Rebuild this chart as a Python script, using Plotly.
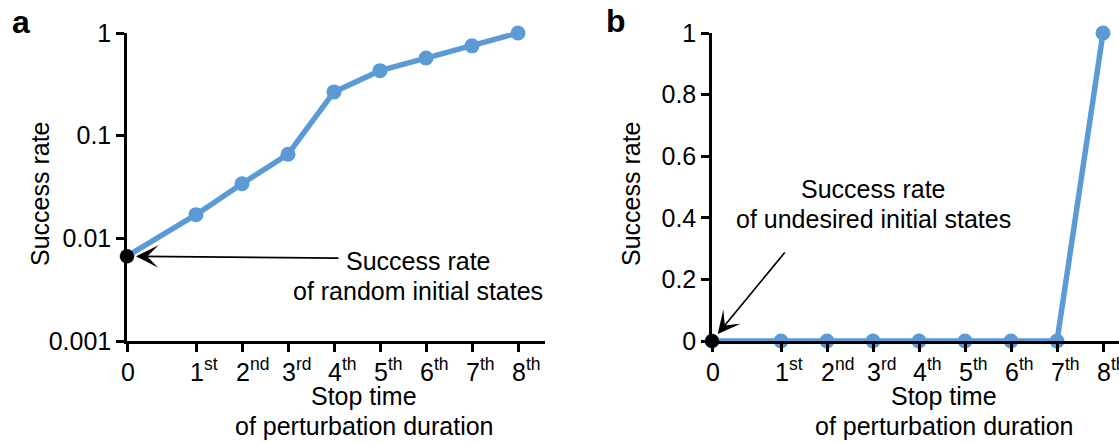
import math
import plotly.graph_objects as go

# ---- data ----
stop_digits = ["0", "1", "2", "3", "4", "5", "6", "7", "8"]
stop_suffix = ["", "st", "nd", "rd", "th", "th", "th", "th", "th"]
stop_x = [0, 1.5, 2.5, 3.5, 4.5, 5.5, 6.5, 7.5, 8.5]
rate_random = [0.0067, 0.017, 0.034, 0.066, 0.267, 0.43, 0.57, 0.75, 1.0]
rate_undesired = [0, 0, 0, 0, 0, 0, 0, 0, 1.0]
log_ticks = [0.001, 0.01, 0.1, 1]
log_tick_text = ["0.001", "0.01", "0.1", "1"]
lin_ticks = [0, 0.2, 0.4, 0.6, 0.8, 1]
lin_tick_text = ["0", "0.2", "0.4", "0.6", "0.8", "1"]

W, H = 1119, 443
BLUE = "#5B9BD5"
FONT = "Arial, Liberation Sans, sans-serif"
FS = 25


def px(x):
    return x / W


def py(y):
    return 1 - y / H


stop_labels = [d + ("<sup>%s</sup>" % s if s else "") for d, s in zip(stop_digits, stop_suffix)]

fig = go.Figure()

for xa, ya, rates in (("x", "y", rate_random), ("x2", "y2", rate_undesired)):
    fig.add_trace(go.Scatter(
        x=stop_x, y=rates, xaxis=xa, yaxis=ya, mode="lines+markers",
        line=dict(color=BLUE, width=5.5), marker=dict(color=BLUE, size=15),
        cliponaxis=False, showlegend=False, hoverinfo="skip"))
    fig.add_trace(go.Scatter(
        x=stop_x[:1], y=rates[:1], xaxis=xa, yaxis=ya, mode="markers",
        marker=dict(color="black", size=14),
        cliponaxis=False, showlegend=False, hoverinfo="skip"))

axis_common = dict(showline=True, linecolor="black", linewidth=2.5, ticks="outside",
                   ticklen=8, tickwidth=2.5, tickcolor="black", showgrid=False,
                   zeroline=False, automargin=False, tickangle=0,
                   tickfont=dict(family=FONT, size=FS, color="black"))

fig.update_layout(
    width=W, height=H, margin=dict(l=0, r=0, t=0, b=0),
    paper_bgcolor="white", plot_bgcolor="white",
    font=dict(family=FONT, size=FS, color="black"),
    xaxis=dict(domain=[px(127), px(545)], range=[0, 418 / 46], anchor="y",
               tickvals=stop_x, showticklabels=False, **axis_common),
    yaxis=dict(domain=[py(341), py(33)], type="log", range=[-3, 0], anchor="x",
               tickvals=log_ticks, ticktext=log_tick_text, **axis_common),
    xaxis2=dict(domain=[px(712), 1.0], range=[0, 407 / 46], anchor="y2",
                tickvals=stop_x, showticklabels=False, **axis_common),
    yaxis2=dict(domain=[py(341), py(33)], range=[0, 1], anchor="x2",
                tickvals=lin_ticks, ticktext=lin_tick_text, **axis_common),
)

ann = []
# panel labels
ann.append(dict(text="<b>a</b>", x=px(21), y=py(22), font=dict(size=32)))
ann.append(dict(text="<b>b</b>", x=px(616), y=py(21), font=dict(size=32)))
# y titles
ann.append(dict(text="Success rate", x=px(40), y=py(194), textangle=-90))
ann.append(dict(text="Success rate", x=px(631), y=py(194), textangle=-90))
# x titles (one annotation per line for tighter line spacing)
for cx in (364, 944):
    ann.append(dict(text="Stop time", x=px(cx), y=py(396)))
    ann.append(dict(text="of perturbation duration", x=px(cx), y=py(426)))
# callout texts
ann.append(dict(text="Success rate", x=px(418), y=py(261)))
ann.append(dict(text="of random initial states", x=px(418), y=py(291)))
ann.append(dict(text="Success rate", x=px(873), y=py(189)))
ann.append(dict(text="of undesired initial states", x=px(873), y=py(219)))
for a in ann:
    a.update(xref="paper", yref="paper", showarrow=False, xanchor="center", yanchor="middle")
    a.setdefault("font", {})
    a["font"].update(family=FONT, color="black")
    a["font"].setdefault("size", FS)

# x tick labels: digit centred on the tick, ordinal suffix as superscript
for xr in ("x", "x2"):
    for xv, lab in zip(stop_x, stop_labels):
        ann.append(dict(text=lab, x=xv, xref=xr, y=py(387), yref="paper",
                        xanchor="left", yanchor="bottom", xshift=-7, borderpad=0,
                        showarrow=False, font=dict(family=FONT, size=FS, color="black")))

# arrows pointing to the initial-state points
ann.append(dict(x=stop_x[0], y=math.log10(rate_random[0]), xref="x", yref="y",
                ax=213, ay=2, text="", showarrow=True,
                arrowhead=3, arrowsize=2.2, arrowwidth=1.7, arrowcolor="black", standoff=9))
ann.append(dict(x=stop_x[0], y=rate_undesired[0], xref="x2", yref="y2",
                ax=74, ay=-90, text="", showarrow=True,
                arrowhead=3, arrowsize=2.2, arrowwidth=1.7, arrowcolor="black", standoff=9))

fig.update_layout(annotations=ann)
fig.write_html("out.html", config={"displayModeBar": False},
               post_script="document.body.style.margin='0';document.body.style.overflow='hidden';")
